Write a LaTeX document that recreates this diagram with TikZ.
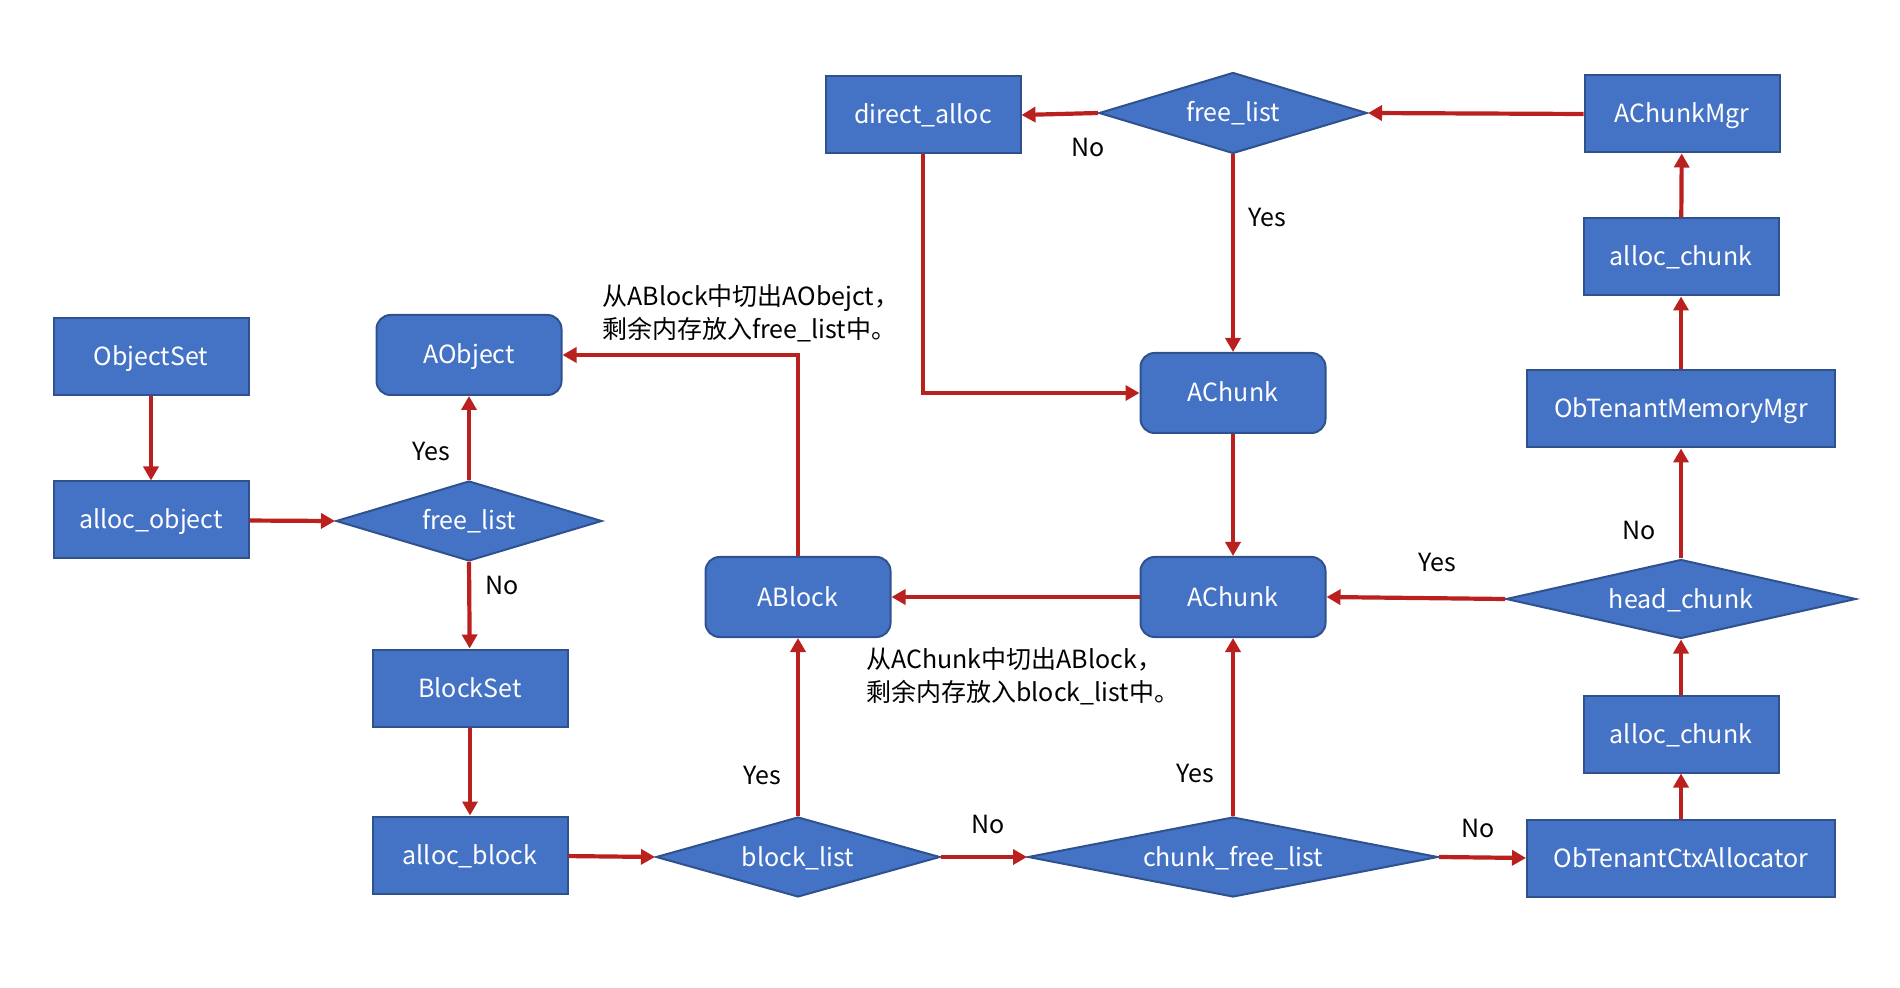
\documentclass[tikz,border=0pt]{standalone}
\usepackage{fontspec}
\setmainfont{Noto Sans CJK SC}
\usetikzlibrary{shapes.geometric,arrows.meta}
\definecolor{boxfill}{HTML}{4472C4}
\definecolor{boxline}{HTML}{2F528F}
\definecolor{arr}{RGB}{186,32,30}
\tikzset{
  base/.style={fill=boxfill,draw=boxline,line width=1pt,text=white,font=\fontsize{12.5}{14}\selectfont,inner sep=0pt,text height=10pt,text depth=1pt},
  rbox/.style={base,rectangle,minimum width=97.5pt,minimum height=38.5pt},
  wbox/.style={base,rectangle,minimum width=154pt,minimum height=38.5pt},
  obox/.style={base,rectangle,rounded corners=7pt,minimum width=92.5pt,minimum height=40pt},
  dbox/.style={base,diamond,minimum height=40pt},
  conn/.style={draw=arr,line width=2.1pt,-{Triangle[length=7pt,width=7.5pt]}},
  lbl/.style={font=\fontsize{12.5}{14}\selectfont,text=black},
  note/.style={font=\fontsize{12.5}{16.5}\selectfont,align=left,anchor=west,inner sep=0pt}
}
\begin{document}
\begin{tikzpicture}[x=0.5pt,y=-0.5pt]
\useasboundingbox (0,0) rectangle (1900,988);
\node[rbox] (objset) at (151,357) {ObjectSet};
\node[rbox] (allocobj) at (151,520) {alloc\_object};
\node[obox] (aobject) at (469,355) {AObject};
\node[dbox,minimum width=133pt,shape aspect=3.3] (fl1) at (469,521) {free\_list};
\node[rbox] (blockset) at (470,688) {BlockSet};
\node[rbox] (allocblk) at (470,855) {alloc\_block};
\node[dbox,minimum width=142pt,shape aspect=3.5] (blist) at (798,857) {block\_list};
\node[obox] (ablock) at (798,597) {ABlock};
\node[dbox,minimum width=205pt,shape aspect=5.1] (cfl) at (1233,857) {chunk\_free\_list};
\node[obox] (achunk2) at (1233,597) {AChunk};
\node[obox] (achunk1) at (1233,393) {AChunk};
\node[dbox,minimum width=134pt,minimum height=40.5pt,shape aspect=3.3] (fl2) at (1233,113) {free\_list};
\node[rbox] (direct) at (923,115) {direct\_alloc};
\node[rbox] (mgr) at (1682,114) {AChunkMgr};
\node[rbox] (ac1) at (1681,257) {alloc\_chunk};
\node[wbox] (memmgr) at (1681,409) {ObTenantMemoryMgr};
\node[dbox,minimum width=175pt,minimum height=39.5pt,shape aspect=4.4] (head) at (1681,599) {head\_chunk};
\node[rbox] (ac2) at (1681,734) {alloc\_chunk};
\node[wbox] (ctx) at (1681,858) {ObTenantCtxAllocator};
% connectors
\draw[conn] (objset) -- (allocobj);
\draw[conn] (allocobj) -- (fl1.west);
\draw[conn] (fl1.north) -- (aobject);
\draw[conn] (fl1.south) -- (blockset);
\draw[conn] (blockset) -- (allocblk);
\draw[conn] (allocblk) -- (blist.west);
\draw[conn] (blist.north) -- (ablock);
\draw[conn] (blist.east) -- (cfl.west);
\draw[conn] (cfl.north) -- (achunk2);
\draw[conn] (cfl.east) -- (ctx.west);
\draw[conn] (ctx) -- (ac2);
\draw[conn] (ac2) -- (head.south);
\draw[conn] (head.north) -- (memmgr);
\draw[conn] (head.west) -- (achunk2.east);
\draw[conn] (memmgr) -- (ac1);
\draw[conn] (ac1) -- (mgr);
\draw[conn] (mgr.west) -- (fl2.east);
\draw[conn] (fl2.west) -- (direct.east);
\draw[conn] (fl2.south) -- (achunk1);
\draw[conn] (direct.south) |- (achunk1.west);
\draw[conn] (achunk1) -- (achunk2);
\draw[conn] (achunk2) -- (ablock);
\draw[conn] (ablock.north) |- (aobject.east);
% labels
\node[lbl] (l1) at (1088,148) {No};
\node[lbl] (l2) at (1267,218) {Yes};
\node[lbl] (l3) at (431,452) {Yes};
\node[lbl] (l4) at (502,586) {No};
\node[lbl] (l5) at (762,775) {Yes};
\node[lbl] (l6) at (988,824) {No};
\node[lbl] (l7) at (1195,773) {Yes};
\node[lbl] (l8) at (1478,828) {No};
\node[lbl] (l9) at (1639,530) {No};
\node[lbl] (l10) at (1437,563) {Yes};
\node[note] (n1) at (602,313) {从ABlock中切出AObejct，\\剩余内存放入free\_list中。};
\node[note] (n2) at (866,676) {从AChunk中切出ABlock，\\剩余内存放入block\_list中。};
\end{tikzpicture}
\end{document}
